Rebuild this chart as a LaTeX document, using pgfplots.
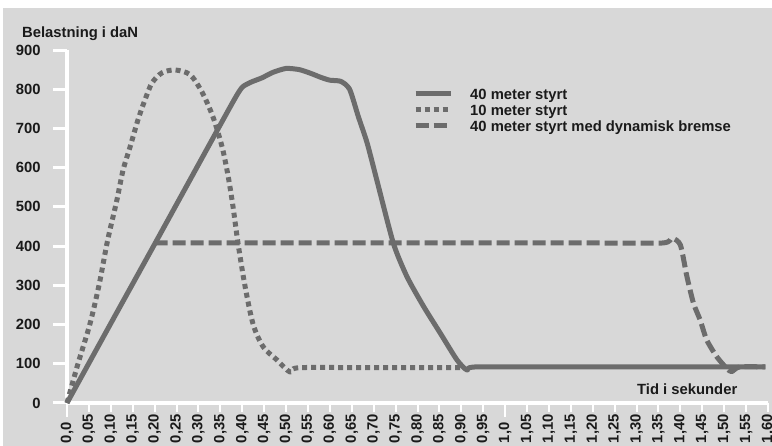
\documentclass[border=0pt]{standalone}
\usepackage{fontspec}
\setmainfont{Liberation Sans}
\usepackage{pgfplots}
\pgfplotsset{compat=1.18}

\definecolor{bgc}{HTML}{D8D8D8}
\definecolor{linec}{HTML}{6C6C6C}
\definecolor{txtc}{HTML}{1A1A1A}

\newcommand{\lbl}{\fontsize{14.8}{16}\selectfont\bfseries}

\begin{document}
\begin{tikzpicture}[x=1pt,y=1pt]
\useasboundingbox (0,0) rectangle (772,446);
\fill[white] (0,0) rectangle (772,446);
\fill[bgc] (3,0) rectangle (772,438);
\begin{axis}[
    at={(67pt,43pt)}, anchor=south west,
    scale only axis, width=701pt, height=353pt,
    xmin=0, xmax=1.6, ymin=0, ymax=900,
    clip=false,
    axis x line=bottom, axis y line=left,
    axis line style={-, white, line width=3.5pt},
    tick align=outside,
    xtick={0,0.05,0.10,0.15,0.20,0.25,0.30,0.35,0.40,0.45,0.50,0.55,0.60,0.65,0.70,0.75,0.80,0.85,0.90,0.95,1.0,1.05,1.10,1.15,1.20,1.25,1.30,1.35,1.40,1.45,1.50,1.55,1.60},
    xticklabels={{0,0},{0,05},{0,10},{0,15},{0,20},{0,25},{0,30},{0,35},{0,40},{0,45},{0,50},{0,55},{0,60},{0,65},{0,70},{0,75},{0,80},{0,85},{0,90},{0,95},{1,0},{1,05},{1,10},{1,15},{1,20},{1,25},{1,30},{1,35},{1,40},{1,45},{1,50},{1,55},{1,60}},
    extra x ticks={0,1},
    extra x tick labels={},
    extra x tick style={x tick style={/pgfplots/major tick length=14pt}},
    ytick={0,100,200,300,400,500,600,700,800,900},
    yticklabels={0,100,200,300,400,500,600,700,800,900},
    x tick style={white, line width=2pt, /pgfplots/major tick length=9pt},
    y tick style={white, line width=3pt, /pgfplots/major tick length=14pt},
    xticklabel style={rotate=90, anchor=west, inner sep=0pt, font=\lbl, text=txtc},
    yticklabel style={anchor=east, inner sep=0pt, font=\lbl, text=txtc},
    xticklabel shift=36pt,
    yticklabel shift=22pt,
    every axis plot/.append style={color=linec, line width=5pt, line cap=butt, line join=round},
    reverse legend,
    legend image code/.code={\draw[#1] (0pt,0pt) -- (35pt,0pt);},
    legend style={draw=none, fill=none, at={(0.4936,0.891)}, anchor=north west,
        inner sep=0pt, row sep=5.5pt, column sep=17pt, font=\lbl, text=txtc,
        nodes={inner sep=0pt, text height=10.5pt, text depth=0pt}},
    legend cell align=left,
]
% 40 meter styrt med dynamisk bremse
\addplot[dash pattern=on 13pt off 5pt, smooth, tension=0.4] coordinates {
    (0.20,408) (0.40,408) (0.60,408) (0.80,408) (1.00,408) (1.20,408)
    (1.36,408) (1.381,420) (1.40,403) (1.415,322) (1.430,254) (1.445,212)
    (1.460,161) (1.483,118) (1.506,88) (1.517,80) (1.535,92) (1.594,92)
};
\addlegendentry{40 meter styrt med dynamisk bremse}
% 10 meter styrt
\addplot[dash pattern=on 5pt off 4pt, smooth, tension=0.5] coordinates {
    (0,0) (0.025,100) (0.052,200) (0.073,300) (0.09,400) (0.098,441)
    (0.114,518) (0.128,594) (0.144,653) (0.162,722) (0.178,773) (0.194,816)
    (0.217,842) (0.247,849) (0.281,837) (0.308,793) (0.333,730) (0.354,653)
    (0.368,577) (0.379,500) (0.390,410) (0.406,300) (0.425,200) (0.448,143)
    (0.479,110) (0.509,79) (0.53,90) (0.70,90) (0.90,90)
};
\addlegendentry{10 meter styrt}
% 40 meter styrt
\addplot[smooth, tension=0.4] coordinates {
    (0,0) (0.10,203) (0.20,405) (0.30,608) (0.38,770) (0.40,805)
    (0.42,818) (0.445,829) (0.47,843) (0.50,853) (0.53,850) (0.555,841)
    (0.58,830) (0.60,823) (0.625,820) (0.645,800) (0.665,730) (0.685,663)
    (0.707,569) (0.745,407) (0.776,322) (0.814,246) (0.852,178) (0.89,110)
    (0.913,84) (0.935,92) (1.20,92) (1.594,92)
};
\addlegendentry{40 meter styrt}
\end{axis}
\node[anchor=base west, inner sep=0pt, font=\lbl, text=txtc] at (22,408) {Belastning i daN};
\node[anchor=base west, inner sep=0pt, font=\lbl, text=txtc] at (637,51) {Tid i sekunder};
\end{tikzpicture}
\end{document}
